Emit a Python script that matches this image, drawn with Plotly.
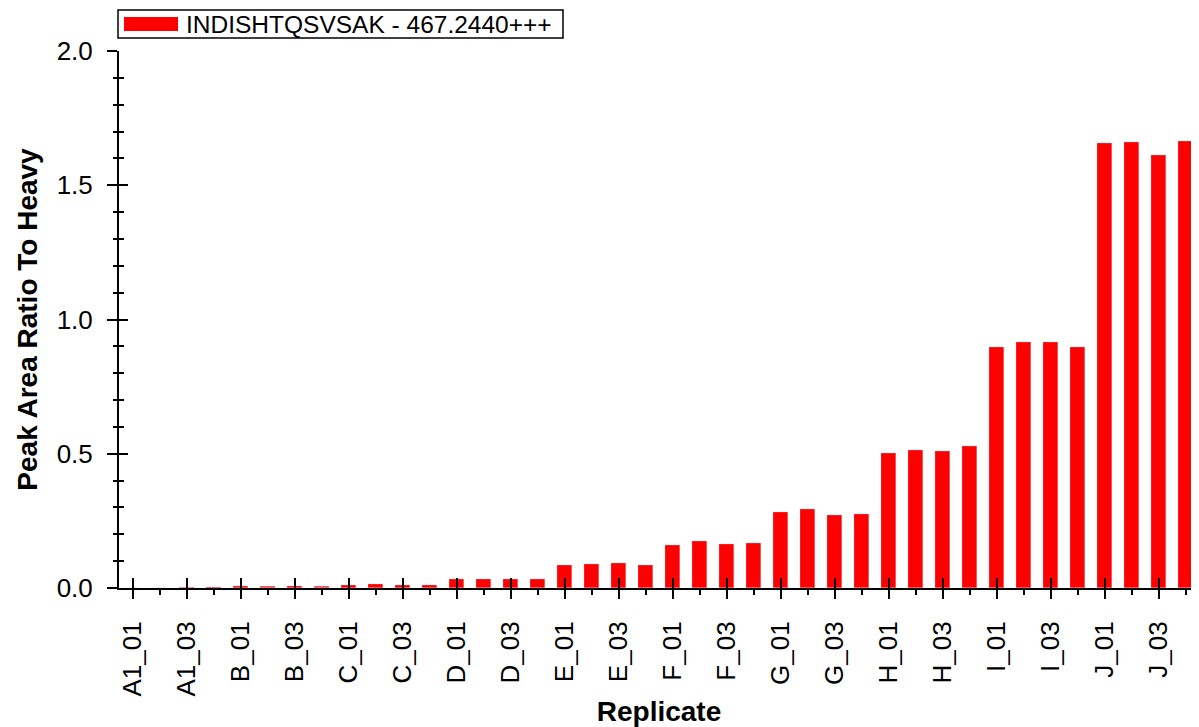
import plotly.graph_objects as go

groups = ["A1", "B", "C", "D", "E", "F", "G", "H", "I", "J"]
reps = ["01", "02", "03", "04"]
replicates = [f"{g}_{r}" for g in groups for r in reps]

ratio_values = [
    0.000, 0.000, 0.001, 0.002,   # A1
    0.006, 0.005, 0.006, 0.005,   # B
    0.011, 0.015, 0.010, 0.011,   # C
    0.035, 0.034, 0.034, 0.033,   # D
    0.086, 0.089, 0.093, 0.086,   # E
    0.160, 0.175, 0.164, 0.168,   # F
    0.283, 0.294, 0.272, 0.276,   # G
    0.503, 0.514, 0.510, 0.529,   # H
    0.898, 0.916, 0.916, 0.898,   # I
    1.657, 1.661, 1.613, 1.665,   # J
]

series_name = "INDISHTQSVSAK - 467.2440+++"
y_title = "Peak Area Ratio To Heavy"
x_title = "Replicate"

positions = list(range(len(replicates)))
major_pos = positions[::2]
major_text = replicates[::2]
minor_pos = positions[1::2]

FONT = "Liberation Sans, Arial, sans-serif"
RED = "#ff0000"

# figure geometry (page body adds an 8px offset)
W, H = 1191, 719
ML, MR, MT, MB = 111, 0, 43, 139
PW = W - ML - MR
PH = H - MT - MB


def px_x(px):
    # page pixel -> paper x
    return (px - 8 - ML) / PW


def px_y(py):
    # page pixel -> paper y
    return (H - MB - (py - 8)) / PH


fig = go.Figure()
fig.add_trace(go.Bar(
    x=positions, y=ratio_values, width=0.52,
    marker=dict(color=RED, line=dict(width=0)),
    name=series_name, showlegend=False,
    customdata=replicates,
    hovertemplate="%{customdata}: %{y}<extra></extra>",
))
# overlay subplot carrying the inside halves of the crossing ticks
fig.add_trace(go.Bar(
    x=positions, y=ratio_values, width=0.52,
    marker=dict(color="rgba(0,0,0,0)"),
    xaxis="x2", yaxis="y2", showlegend=False, hoverinfo="skip",
))

xr = [-0.5, len(replicates) - 0.5]
yr = [0, 2.0]

# legend box drawn as shapes + text
shapes = [
    dict(type="rect", xref="paper", yref="paper",
         x0=px_x(118), x1=px_x(563), y0=px_y(38), y1=px_y(10),
         line=dict(color="black", width=1.5), fillcolor="white", layer="above"),
    dict(type="rect", xref="paper", yref="paper",
         x0=px_x(124), x1=px_x(178), y0=px_y(31), y1=px_y(17),
         line=dict(width=0), fillcolor=RED, layer="above"),
]
annotations = [
    dict(text=series_name, xref="paper", yref="paper",
         x=px_x(184), y=px_y(24.5), xanchor="left", yanchor="middle",
         showarrow=False, font=dict(size=24.5, family=FONT, color="black")),
]

fig.update_layout(
    width=W, height=H,
    margin=dict(l=ML, r=MR, t=MT, b=MB),
    paper_bgcolor="white", plot_bgcolor="white",
    font=dict(family=FONT, color="black", size=26),
    bargap=0,
    showlegend=False,
    shapes=shapes,
    annotations=annotations,
    xaxis=dict(
        range=xr, autorange=False,
        tickmode="array", tickvals=major_pos, ticktext=major_text,
        tickangle=-90, ticks="outside", ticklen=9, tickwidth=2, tickcolor="black",
        minor=dict(tickmode="array", tickvals=minor_pos, ticks="outside",
                   ticklen=5, tickwidth=2, tickcolor="black"),
        showline=True, linecolor="black", linewidth=2,
        showgrid=False, zeroline=False,
        tickfont=dict(size=26),
        ticklabelstandoff=12,
        title=dict(text=x_title, font=dict(size=28, family=FONT, weight="bold"), standoff=7),
        automargin=False,
    ),
    yaxis=dict(
        range=yr, autorange=False,
        tickmode="linear", tick0=0, dtick=0.5, tickformat=".1f",
        ticks="outside", ticklen=10, tickwidth=2, tickcolor="black",
        minor=dict(dtick=0.1, tick0=0, ticks="outside", ticklen=4,
                   tickwidth=2, tickcolor="black"),
        showline=True, linecolor="black", linewidth=2,
        showgrid=False, zeroline=False,
        tickfont=dict(size=26),
        ticklabelstandoff=9,
        title=dict(text=y_title, font=dict(size=28, family=FONT, weight="bold"), standoff=11),
        automargin=False,
    ),
    xaxis2=dict(
        overlaying="x", anchor="y2", side="bottom",
        range=xr, autorange=False,
        tickmode="array", tickvals=major_pos, ticks="inside", ticklen=10,
        tickwidth=2, tickcolor="black", showticklabels=False,
        showline=False, showgrid=False, zeroline=False,
    ),
    yaxis2=dict(
        overlaying="y", anchor="x2", side="left",
        range=yr, autorange=False,
        tickmode="linear", tick0=0, dtick=0.5,
        ticks="inside", ticklen=9, tickwidth=2, tickcolor="black",
        minor=dict(dtick=0.1, tick0=0, ticks="inside", ticklen=5,
                   tickwidth=2, tickcolor="black"),
        showticklabels=False,
        showline=False, showgrid=False, zeroline=False,
    ),
)

fig.write_html("out.html")
